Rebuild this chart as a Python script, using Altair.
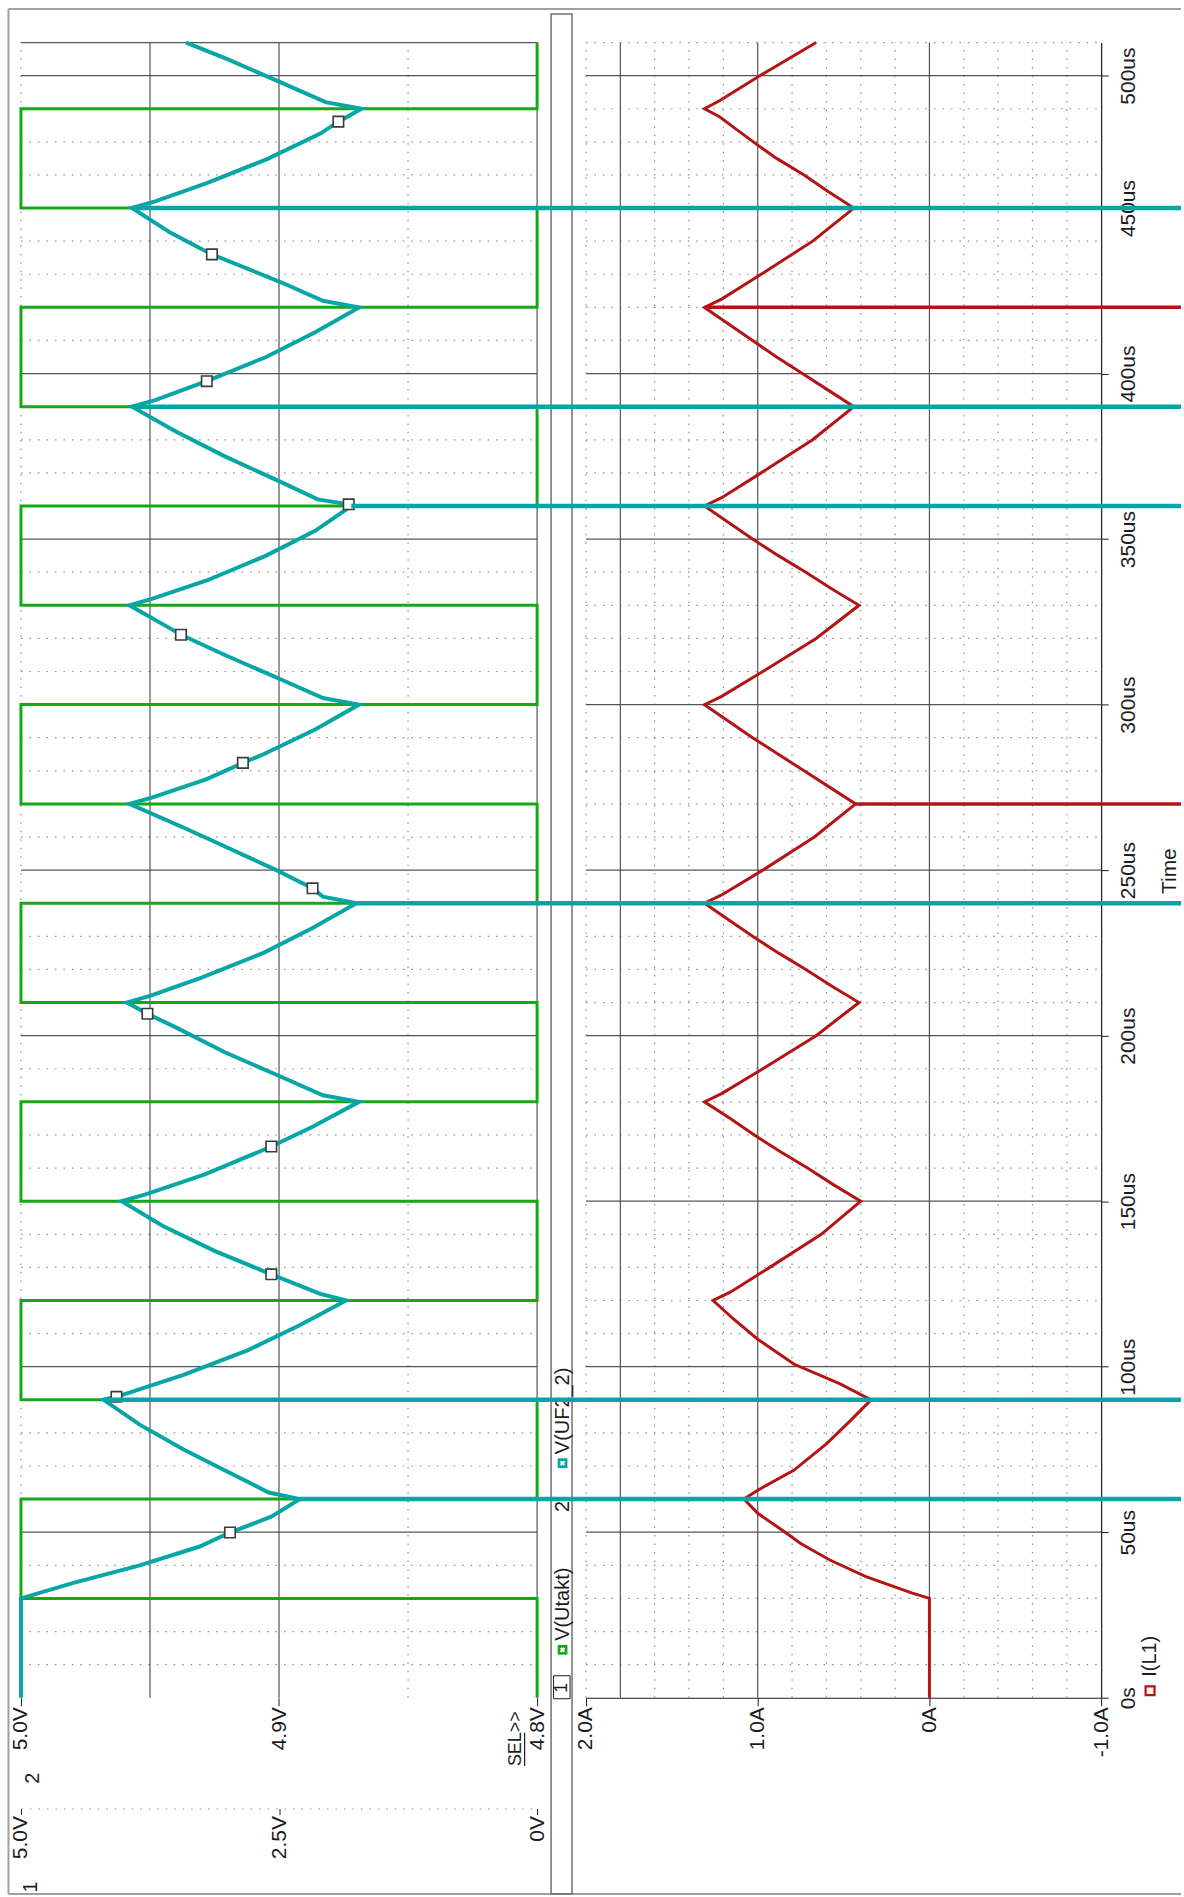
import altair as alt
import pandas as pd

# ---------------- traces (time in microseconds) ----------------
# V(Utakt): 0 V / 5 V square wave
utakt_t = [0, 30, 30, 60, 60, 90, 90, 120, 120, 150, 150, 180, 180, 210, 210, 240, 240,
           270, 270, 300, 300, 330, 330, 360, 360, 390, 390, 420, 420, 450, 450, 480, 480, 500]
utakt_v = [0, 0, 5, 5, 0, 0, 5, 5, 0, 0, 5, 5, 0, 0, 5, 5, 0,
           0, 5, 5, 0, 0, 5, 5, 0, 0, 5, 5, 0, 0, 5, 5, 0, 0]

# V(UF2_2) on the 4.8 V .. 5.0 V axis
uf_t = [0, 30, 34.6, 40, 45.6, 49.9, 54.7, 60,
        62, 67.5, 75, 82.5, 90,
        90.9, 97.5, 105, 112.5, 120,
        122, 127.9, 135, 142.5, 150,
        152, 158, 166.5, 172.5, 180,
        182, 187.5, 195, 202.5, 206.6, 210,
        212, 217.5, 225, 232.5, 240,
        242, 244.5, 250, 257.5, 262.5, 270,
        272, 277.5, 282.4, 285, 292.5, 300,
        302, 307.5, 315, 321.1, 322.5, 330,
        332, 337.5, 345, 352.5, 360,
        360.5, 362, 367.5, 375, 382.5, 390,
        392, 397.7, 405, 412.5, 420,
        422, 427.5, 436, 442.5, 450,
        452, 457.5, 465, 472.5, 476.1, 480,
        482, 487.5, 495, 500]
uf_v = [5.000, 5.000, 4.980, 4.954, 4.931, 4.919, 4.903, 4.892,
        4.904, 4.918, 4.937, 4.954, 4.968,
        4.963, 4.937, 4.912, 4.892, 4.874,
        4.884, 4.903, 4.925, 4.945, 4.961,
        4.952, 4.929, 4.903, 4.887, 4.869,
        4.883, 4.899, 4.921, 4.940, 4.951, 4.959,
        4.950, 4.930, 4.906, 4.887, 4.870,
        4.883, 4.887, 4.901, 4.922, 4.936, 4.958,
        4.949, 4.928, 4.914, 4.906, 4.886, 4.869,
        4.883, 4.899, 4.921, 4.938, 4.941, 4.958,
        4.949, 4.928, 4.905, 4.886, 4.872,
        4.873, 4.885, 4.900, 4.921, 4.940, 4.957,
        4.948, 4.928, 4.905, 4.886, 4.869,
        4.883, 4.899, 4.926, 4.942, 4.957,
        4.948, 4.928, 4.904, 4.884, 4.877, 4.868,
        4.882, 4.898, 4.920, 4.936]

# symbol markers sitting on the V(UF2_2) trace
uf_marker_t = [49.9, 90.9, 127.9, 166.5, 206.6, 244.5, 282.4, 321.1, 360.5, 397.7, 436.0, 476.1]
uf_marker_v = [4.919, 4.963, 4.903, 4.903, 4.951, 4.887, 4.914, 4.938, 4.873, 4.928, 4.926, 4.877]

# I(L1)
il_t = [0, 30, 31.6, 36.6, 41.6, 46.6, 50, 55.7, 60,
        62.7, 68.7, 76.7, 83.7, 90,
        94.8, 100.8, 108.3, 114.8, 120,
        122.5, 130, 140, 150,
        155, 160, 165, 170, 175, 180,
        182.5, 190, 200, 210,
        215, 220, 225, 230, 235, 240,
        242.5, 250, 260, 270,
        275, 280, 285, 290, 295, 300,
        302.5, 310, 320, 330,
        335, 340, 345, 350, 355, 360,
        362.5, 370, 380, 390,
        395, 400, 405, 410, 415, 420,
        422.5, 430, 440, 450,
        455, 460, 465, 469, 474, 477.5, 480,
        482.5, 489.6, 500]
il_a = [0, 0, 0.10, 0.37, 0.58, 0.75, 0.84, 1.00, 1.08,
        1.00, 0.79, 0.60, 0.46, 0.34,
        0.52, 0.79, 1.00, 1.15, 1.26,
        1.16, 0.93, 0.63, 0.40,
        0.56, 0.71, 0.87, 1.02, 1.16, 1.31,
        1.21, 0.97, 0.66, 0.41,
        0.57, 0.72, 0.88, 1.03, 1.17, 1.31,
        1.21, 0.97, 0.67, 0.43,
        0.58, 0.73, 0.88, 1.03, 1.17, 1.31,
        1.21, 0.97, 0.66, 0.41,
        0.57, 0.72, 0.88, 1.03, 1.17, 1.31,
        1.21, 0.98, 0.68, 0.44,
        0.59, 0.74, 0.89, 1.03, 1.17, 1.31,
        1.21, 0.98, 0.68, 0.44,
        0.59, 0.73, 0.89, 1.00, 1.13, 1.22, 1.31,
        1.22, 1.00, 0.66]

# trace lines that run off to the right edge of the window
uf_spike_t = [60, 90, 240, 360, 390, 450]
uf_spike_v = [4.892, 4.968, 4.870, 4.872, 4.957, 4.957]
il_spike_t = [270, 420]
il_spike_a = [0.43, 1.31]

# ---------------- axes ----------------
time_ticks = [0, 50, 100, 150, 200, 250, 300, 350, 400, 450, 490]
time_labels = ["0s", "50us", "100us", "150us", "200us", "250us", "300us",
               "350us", "400us", "450us", "500us"]
v2_ticks = [5.0, 4.9, 4.8]
v2_labels = ["5.0V", "4.9V", "4.8V"]
v1_ticks = [5.0, 2.5, 0.0]
v1_labels = ["5.0V", "2.5V", "0V"]
i_ticks = [2.0, 1.0, 0.0, -1.0]
i_labels = ["2.0A", "1.0A", "0A", "-1.0A"]

# grid
t_major = [50, 100, 150, 200, 250, 300, 350, 400, 450, 490]
t_minor = [t for t in range(10, 500, 10) if t % 50 != 0 and t != 490]
v1_grid_solid = [3.75, 2.5, 0.0]
v1_grid_dot = [5.0, 1.25]
i_grid_solid = [1.8, 1.0, 0.0]
i_grid_dot = [2.0, 1.6, 1.4, 1.2, 0.8, 0.6, 0.4, 0.2, -0.2, -0.4, -0.6, -0.8]

# ---------------- style ----------------
FONT = "Liberation Sans"
INK = "#1c1c1c"
GRID = "#555555"
DOT = "#8c8c8c"
GREEN = "#16a816"
CYAN = "#06a6a6"
RED = "#b31515"
FRAME = "#a0a0a0"
DASH = [1.5, 7]

W_L, W_R, H, GAP = 517, 516, 1658, 49


def label_expr(values, labels):
    parts = [f"abs(datum.value - ({v})) < 1e-6 ? '{l}'" for v, l in zip(values, labels)]
    return " : ".join(parts) + " : ''"


t_scale = alt.Scale(domain=[0, 500], nice=False, zero=False)
v1_scale = alt.Scale(domain=[5.0, 0.0], nice=False, zero=False)
v2_scale = alt.Scale(domain=[5.0, 4.8], nice=False, zero=False)
i_scale = alt.Scale(domain=[2.0, -1.0], nice=False, zero=False)

label_common = dict(labelAngle=270, labelFont=FONT, labelFontSize=21, labelColor=INK,
                    labelFlush=False, labelOverlap=False)

axis_v2 = alt.Axis(orient="bottom", values=v2_ticks, labelExpr=label_expr(v2_ticks, v2_labels),
                   domain=False, grid=False, ticks=True, tickSize=8, tickColor=INK,
                   labelAlign="right", labelBaseline="middle", labelPadding=1,
                   title="2", titleAngle=270, titleX=12, titleY=80, titleAlign="center",
                   titleBaseline="middle", titleFont=FONT, titleFontSize=20,
                   titleFontWeight="normal", titleColor=INK, **label_common)
axis_v1 = alt.Axis(orient="bottom", offset=111, values=v1_ticks,
                   labelExpr=label_expr(v1_ticks, v1_labels),
                   domain=True, domainColor=DOT, domainDash=DASH, grid=False, ticks=True,
                   tickSize=6, tickColor=INK, labelAlign="right", labelBaseline="middle",
                   labelPadding=1, title="1", titleAngle=270, titleX=10, titleY=78,
                   titleAlign="center", titleBaseline="middle", titleFont=FONT,
                   titleFontSize=20, titleFontWeight="normal", titleColor=INK, **label_common)
axis_i = alt.Axis(orient="bottom", values=i_ticks, labelExpr=label_expr(i_ticks, i_labels),
                  domain=True, domainColor=INK, domainWidth=1.2, grid=False, ticks=True,
                  tickSize=8, tickColor=INK, labelAlign="right", labelBaseline="middle",
                  labelPadding=1, title=None, **label_common)
axis_t = alt.Axis(orient="right", values=time_ticks, labelExpr=label_expr(time_ticks, time_labels),
                  domain=True, domainColor=INK, domainWidth=1.2, grid=False, ticks=True,
                  tickSize=7, tickColor=INK, labelAlign="center", labelBaseline="top",
                  labelPadding=9, title="Time", titleAngle=270, titleX=68, titleY=829.5,
                  titleAlign="center", titleBaseline="middle", titleFont=FONT,
                  titleFontSize=21, titleFontWeight="normal", titleColor=INK, **label_common)

one = pd.DataFrame({"k": [0]})


def note(text, x, y, size=20, color=INK):
    return alt.Chart(one).mark_text(text=text, angle=270, align="left", baseline="middle",
                                    font=FONT, fontSize=size, color=color).encode(
        x=alt.value(x), y=alt.value(y))


# ---------------- upper plot (voltages) ----------------
def v1x(field):
    return alt.X(field, type="quantitative", scale=v1_scale, axis=axis_v1)


def v2x(field):
    return alt.X(field, type="quantitative", scale=v2_scale, axis=axis_v2)


def ty(field):
    return alt.Y(field, type="quantitative", scale=t_scale, axis=None)


h_dot_l = pd.DataFrame({"t": t_minor, "a": 5.0, "b": 0.0})
h_solid_l = pd.DataFrame({"t": t_major + [500], "a": 5.0, "b": 0.0})
vl_dot = pd.DataFrame({"v": v1_grid_dot, "t0": 0, "t1": 500})
vl_solid = pd.DataFrame({"v": v1_grid_solid, "t0": 0, "t1": 500})

grid_l = [
    alt.Chart(h_dot_l).mark_rule(color=DOT, strokeWidth=1.2, strokeDash=DASH).encode(
        x=v1x("a"), x2="b", y=ty("t")),
    alt.Chart(vl_dot).mark_rule(color=DOT, strokeWidth=1.2, strokeDash=DASH).encode(
        x=v1x("v"), y=ty("t0"), y2="t1"),
    alt.Chart(h_solid_l).mark_rule(color=GRID, strokeWidth=1.2).encode(
        x=v1x("a"), x2="b", y=ty("t")),
    alt.Chart(vl_solid).mark_rule(color=GRID, strokeWidth=1.2).encode(
        x=v1x("v"), y=ty("t0"), y2="t1"),
]

utakt = pd.DataFrame({"t": utakt_t, "v": utakt_v, "k": range(len(utakt_t))})
green_line = alt.Chart(utakt).mark_line(color=GREEN, strokeWidth=3).encode(
    x=v1x("v"), y=ty("t"), order="k:Q")

# window frame and the legend strip between the two plots
frame = [
    alt.Chart(one).mark_rule(color=FRAME, strokeWidth=2).encode(
        x=alt.value(-12.5), x2=alt.value(1162), y=alt.value(-33.5)),
    alt.Chart(one).mark_rule(color=FRAME, strokeWidth=2).encode(
        x=alt.value(-12.5), y=alt.value(-33.5), y2=alt.value(1854.5)),
    alt.Chart(one).mark_rule(color=FRAME, strokeWidth=2).encode(
        x=alt.value(-12.5), x2=alt.value(1162), y=alt.value(1854.5)),
    alt.Chart(one).mark_rect(fillOpacity=0, stroke="#707070", strokeWidth=1.5).encode(
        x=alt.value(531), x2=alt.value(552), y=alt.value(-28.5), y2=alt.value(1854.5)),
]

group_a = alt.layer(*grid_l, green_line, *frame)

uf = pd.DataFrame({"t": uf_t, "v": uf_v, "k": range(len(uf_t))})
uf_marks = pd.DataFrame({"t": uf_marker_t, "v": uf_marker_v})
uf_spikes_l = pd.DataFrame({"t": uf_spike_t, "v": uf_spike_v, "e": 4.8})

cyan_line = alt.Chart(uf).mark_line(color=CYAN, strokeWidth=4).encode(
    x=v2x("v"), y=ty("t"), order="k:Q")
cyan_pts = alt.Chart(uf_marks).mark_point(shape="square", filled=True, fill="white",
                                          stroke="#3a3a3a", strokeWidth=1.6, size=110,
                                          opacity=1).encode(x=v2x("v"), y=ty("t"))
cyan_spikes = alt.Chart(uf_spikes_l).mark_rule(color=CYAN, strokeWidth=4.5).encode(
    x=v2x("v"), x2="e", y=ty("t"))

legend_strip = [
    alt.Chart(one).mark_rect(fillOpacity=0, stroke=INK, strokeWidth=1).encode(
        x=alt.value(533.5), x2=alt.value(550), y=alt.value(1636), y2=alt.value(1659)),
    note("1", 542, 1653, size=18),
    alt.Chart(one).mark_point(shape="square", filled=True, color=GREEN, size=95, opacity=1).encode(
        x=alt.value(542.5), y=alt.value(1610)),
    alt.Chart(one).mark_point(shape="cross", angle=45, filled=True, color="white", size=28,
                              opacity=1).encode(x=alt.value(542.5), y=alt.value(1610)),
    note("V(Utakt)", 542.5, 1601),
    note("2", 542.5, 1472),
    alt.Chart(one).mark_point(shape="square", filled=True, color=CYAN, size=95, opacity=1).encode(
        x=alt.value(542.5), y=alt.value(1423)),
    alt.Chart(one).mark_point(shape="cross", angle=45, filled=True, color="white", size=28,
                              opacity=1).encode(x=alt.value(542.5), y=alt.value(1423)),
    note("V(UF2_2)", 542.5, 1414),
    note("SEL>>", 495.5, 1726.5, size=18),
    # underline under "SEL"
    alt.Chart(one).mark_rule(color=INK, strokeWidth=1.2).encode(
        x=alt.value(504.5), y=alt.value(1726.5), y2=alt.value(1693)),
]

group_b = alt.layer(cyan_line, cyan_pts, cyan_spikes, *legend_strip)

upper = alt.layer(group_a, group_b).resolve_scale(x="independent").properties(
    width=W_L, height=H)

# ---------------- lower plot (inductor current) ----------------
def ix(field):
    return alt.X(field, type="quantitative", scale=i_scale, axis=axis_i)


def ty2(field):
    return alt.Y(field, type="quantitative", scale=t_scale, axis=axis_t)


h_dot_r = pd.DataFrame({"t": t_minor + [500], "a": 2.0, "b": -1.0})
h_solid_r = pd.DataFrame({"t": t_major, "a": 2.0, "b": -1.0})
vr_dot = pd.DataFrame({"v": i_grid_dot, "t0": 0, "t1": 500})
vr_solid = pd.DataFrame({"v": i_grid_solid, "t0": 0, "t1": 500})

grid_r = [
    alt.Chart(h_dot_r).mark_rule(color=DOT, strokeWidth=1.2, strokeDash=DASH).encode(
        x=ix("a"), x2="b", y=ty2("t")),
    alt.Chart(vr_dot).mark_rule(color=DOT, strokeWidth=1.2, strokeDash=DASH).encode(
        x=ix("v"), y=ty2("t0"), y2="t1"),
    alt.Chart(h_solid_r).mark_rule(color=GRID, strokeWidth=1.2).encode(
        x=ix("a"), x2="b", y=ty2("t")),
    alt.Chart(vr_solid).mark_rule(color=GRID, strokeWidth=1.2).encode(
        x=ix("v"), y=ty2("t0"), y2="t1"),
]

il = pd.DataFrame({"t": il_t, "a": il_a, "k": range(len(il_t))})
il_spikes = pd.DataFrame({"t": il_spike_t, "a": il_spike_a, "e": -1.465})
uf_spikes_r = pd.DataFrame({"t": uf_spike_t, "s": 2.29, "e": -1.465})

red_line = alt.Chart(il).mark_line(color=RED, strokeWidth=3).encode(
    x=ix("a"), y=ty2("t"), order="k:Q")
red_spikes = alt.Chart(il_spikes).mark_rule(color=RED, strokeWidth=3.5).encode(
    x=ix("a"), x2="e", y=ty2("t"))
cyan_spikes_r = alt.Chart(uf_spikes_r).mark_rule(color=CYAN, strokeWidth=4.5).encode(
    x=ix("s"), x2="e", y=ty2("t"))

il_legend = [
    alt.Chart(one).mark_point(shape="square", filled=True, fill="#fff0f0", stroke=RED,
                              strokeWidth=2.2, size=80, opacity=1).encode(
        x=alt.value(565), y=alt.value(1651)),
    note("I(L1)", 565, 1637),
]

lower = alt.layer(*grid_r, red_line, red_spikes, cyan_spikes_r, *il_legend).properties(
    width=W_R, height=H)

chart = alt.hconcat(upper, lower, spacing=GAP, bounds="flush").properties(
    padding={"left": 7, "top": 6, "right": 0, "bottom": 0},
    background="white",
).configure_view(stroke=None)

chart.save("out.html", embed_options={"renderer": "svg", "actions": False})
